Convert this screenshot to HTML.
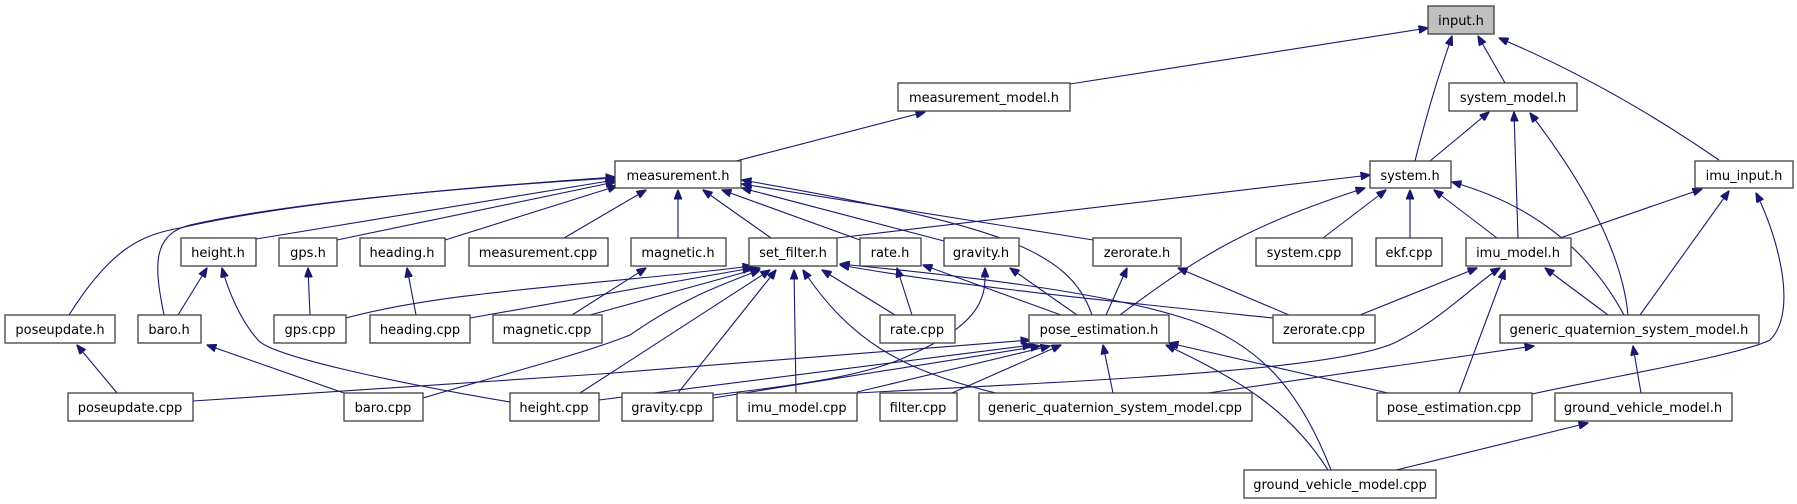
<!DOCTYPE html>
<html><head><meta charset="utf-8"><style>
html,body{margin:0;padding:0;background:#fff;}
svg{display:block;}
text{font-family:"DejaVu Sans","Liberation Sans",sans-serif;font-size:13px;fill:#000;}
.n{fill:#fff;stroke:#404040;stroke-width:1.3;}
.e{fill:none;stroke:#191970;stroke-width:1.1;}
</style></head><body>
<svg width="1797" height="504" viewBox="0 0 1797 504" xmlns="http://www.w3.org/2000/svg">
<defs><marker id="a" viewBox="0 0 10 8" refX="9.5" refY="4" markerWidth="10" markerHeight="8" markerUnits="userSpaceOnUse" orient="auto"><path d="M0,0 L10,4 L0,8 z" fill="#191970" stroke="#191970"/></marker></defs>
<g class="e" marker-end="url(#a)">
<path d="M1070,84 L1428,28"/>
<path d="M1505,83 L1478,36"/>
<path d="M1415,161 Q1430,100 1452,36"/>
<path d="M1719,160 Q1610,85 1499,38"/>
<path d="M736,161 L925,112"/>
<path d="M1430,161 L1489,112"/>
<path d="M1518,238 L1514,112"/>
<path d="M1628,315 Q1620,230 1530,113"/>
<path d="M1624,315 Q1570,215 1452,182"/>
<path d="M1560,238 L1702,189"/>
<path d="M1640,315 L1729,191"/>
<path d="M1532,394 C1620,375 1740,355 1770,340 C1800,310 1775,230 1756,193"/>
<path d="M1323,238 L1386,190"/>
<path d="M1410,238 L1410,190"/>
<path d="M1497,238 L1434,190"/>
<path d="M837,238 L1370,175"/>
<path d="M1120,315 C1200,255 1250,225 1365,188"/>
<path d="M1360,315 L1477,268"/>
<path d="M857,393 C1100,380 1350,370 1400,340 C1440,320 1480,280 1500,268"/>
<path d="M1459,393 L1505,270"/>
<path d="M1608,315 L1545,268"/>
<path d="M1208,393 L1534,346"/>
<path d="M1641,393 L1633,346"/>
<path d="M1396,470 L1588,423"/>
<path d="M69,315 C110,250 140,235 180,228 C300,200 500,185 615,177"/>
<path d="M164,315 C155,270 150,235 190,225 C300,200 500,185 615,178"/>
<path d="M256,239 L615,180"/>
<path d="M337,240 L615,182"/>
<path d="M445,240 L617,186"/>
<path d="M564,238 L646,190"/>
<path d="M678,238 L678,190"/>
<path d="M771,238 L703,190"/>
<path d="M860,240 L722,190"/>
<path d="M944,241 L742,188"/>
<path d="M1093,240 L742,184"/>
<path d="M1092,315 C1070,250 1000,225 742,180"/>
<path d="M178,315 L207,268"/>
<path d="M510,402 C380,380 270,355 258,340 C240,320 228,290 222,268"/>
<path d="M310,315 L308,268"/>
<path d="M416,315 L407,268"/>
<path d="M572,315 L646,268"/>
<path d="M344,393 L207,345"/>
<path d="M117,393 L77,345"/>
<path d="M346,318 C450,290 600,285 752,266"/>
<path d="M470,318 L752,268"/>
<path d="M590,315 L760,268"/>
<path d="M423,398 C500,375 580,355 630,335 C680,300 720,285 760,270"/>
<path d="M580,393 L770,270"/>
<path d="M678,393 L776,270"/>
<path d="M796,393 L794,270"/>
<path d="M996,393 C900,370 850,340 803,270"/>
<path d="M895,315 L822,270"/>
<path d="M1273,318 C1100,300 950,285 840,265"/>
<path d="M1331,470 C1300,390 1260,345 1190,320 C1100,290 950,275 840,264"/>
<path d="M1388,393 L1169,343"/>
<path d="M1328,470 C1290,410 1240,380 1166,345"/>
<path d="M912,315 L897,268"/>
<path d="M1061,315 L923,265"/>
<path d="M1077,315 L1010,268"/>
<path d="M713,395 C800,385 870,375 910,355 C990,320 985,290 985,268"/>
<path d="M1106,315 L1127,268"/>
<path d="M1289,315 L1178,268"/>
<path d="M193,401 L600,374 L1030,340"/>
<path d="M599,400 L1032,345"/>
<path d="M713,398 L1040,346"/>
<path d="M857,392 L1050,346"/>
<path d="M952,393 L1061,345"/>
<path d="M1113,393 L1103,345"/>
</g>
<g>
<rect x="1428" y="6" width="66" height="28" fill="#bfbfbf" stroke="#404040" stroke-width="1.3"/><text x="1461" y="25" text-anchor="middle">input.h</text>
<rect class="n" x="898" y="83" width="172" height="28"/><text x="984" y="102" text-anchor="middle">measurement_model.h</text>
<rect class="n" x="1449" y="83" width="128" height="28"/><text x="1513" y="102" text-anchor="middle">system_model.h</text>
<rect class="n" x="615" y="161" width="126" height="27"/><text x="678" y="180" text-anchor="middle">measurement.h</text>
<rect class="n" x="1370" y="161" width="81" height="27"/><text x="1410" y="180" text-anchor="middle">system.h</text>
<rect class="n" x="1695" y="161" width="98" height="27"/><text x="1744" y="180" text-anchor="middle">imu_input.h</text>
<rect class="n" x="181" y="238" width="75" height="28"/><text x="218" y="257" text-anchor="middle">height.h</text>
<rect class="n" x="279" y="238" width="58" height="28"/><text x="308" y="257" text-anchor="middle">gps.h</text>
<rect class="n" x="360" y="238" width="85" height="28"/><text x="402" y="257" text-anchor="middle">heading.h</text>
<rect class="n" x="469" y="238" width="139" height="28"/><text x="538" y="257" text-anchor="middle">measurement.cpp</text>
<rect class="n" x="631" y="238" width="95" height="28"/><text x="678" y="257" text-anchor="middle">magnetic.h</text>
<rect class="n" x="749" y="238" width="88" height="28"/><text x="793" y="257" text-anchor="middle">set_filter.h</text>
<rect class="n" x="860" y="238" width="61" height="28"/><text x="890" y="257" text-anchor="middle">rate.h</text>
<rect class="n" x="944" y="238" width="75" height="28"/><text x="981" y="257" text-anchor="middle">gravity.h</text>
<rect class="n" x="1093" y="238" width="88" height="28"/><text x="1137" y="257" text-anchor="middle">zerorate.h</text>
<rect class="n" x="1256" y="238" width="96" height="28"/><text x="1304" y="257" text-anchor="middle">system.cpp</text>
<rect class="n" x="1376" y="238" width="66" height="28"/><text x="1409" y="257" text-anchor="middle">ekf.cpp</text>
<rect class="n" x="1466" y="238" width="105" height="28"/><text x="1518" y="257" text-anchor="middle">imu_model.h</text>
<rect class="n" x="5" y="315" width="110" height="28"/><text x="60" y="334" text-anchor="middle">poseupdate.h</text>
<rect class="n" x="138" y="315" width="63" height="28"/><text x="169" y="334" text-anchor="middle">baro.h</text>
<rect class="n" x="274" y="315" width="72" height="28"/><text x="310" y="334" text-anchor="middle">gps.cpp</text>
<rect class="n" x="370" y="315" width="100" height="28"/><text x="420" y="334" text-anchor="middle">heading.cpp</text>
<rect class="n" x="493" y="315" width="109" height="28"/><text x="547" y="334" text-anchor="middle">magnetic.cpp</text>
<rect class="n" x="880" y="315" width="75" height="28"/><text x="917" y="334" text-anchor="middle">rate.cpp</text>
<rect class="n" x="1029" y="315" width="140" height="28"/><text x="1099" y="334" text-anchor="middle">pose_estimation.h</text>
<rect class="n" x="1273" y="315" width="102" height="28"/><text x="1324" y="334" text-anchor="middle">zerorate.cpp</text>
<rect class="n" x="1500" y="315" width="259" height="28"/><text x="1629" y="334" text-anchor="middle">generic_quaternion_system_model.h</text>
<rect class="n" x="68" y="393" width="125" height="28"/><text x="130" y="412" text-anchor="middle">poseupdate.cpp</text>
<rect class="n" x="344" y="393" width="79" height="28"/><text x="383" y="412" text-anchor="middle">baro.cpp</text>
<rect class="n" x="510" y="393" width="89" height="28"/><text x="554" y="412" text-anchor="middle">height.cpp</text>
<rect class="n" x="622" y="393" width="91" height="28"/><text x="667" y="412" text-anchor="middle">gravity.cpp</text>
<rect class="n" x="737" y="393" width="120" height="28"/><text x="797" y="412" text-anchor="middle">imu_model.cpp</text>
<rect class="n" x="880" y="393" width="77" height="28"/><text x="918" y="412" text-anchor="middle">filter.cpp</text>
<rect class="n" x="979" y="393" width="273" height="28"/><text x="1115" y="412" text-anchor="middle">generic_quaternion_system_model.cpp</text>
<rect class="n" x="1377" y="393" width="155" height="28"/><text x="1454" y="412" text-anchor="middle">pose_estimation.cpp</text>
<rect class="n" x="1555" y="393" width="177" height="28"/><text x="1643" y="412" text-anchor="middle">ground_vehicle_model.h</text>
<rect class="n" x="1244" y="470" width="192" height="28"/><text x="1340" y="489" text-anchor="middle">ground_vehicle_model.cpp</text>
</g>
</svg>
</body></html>
